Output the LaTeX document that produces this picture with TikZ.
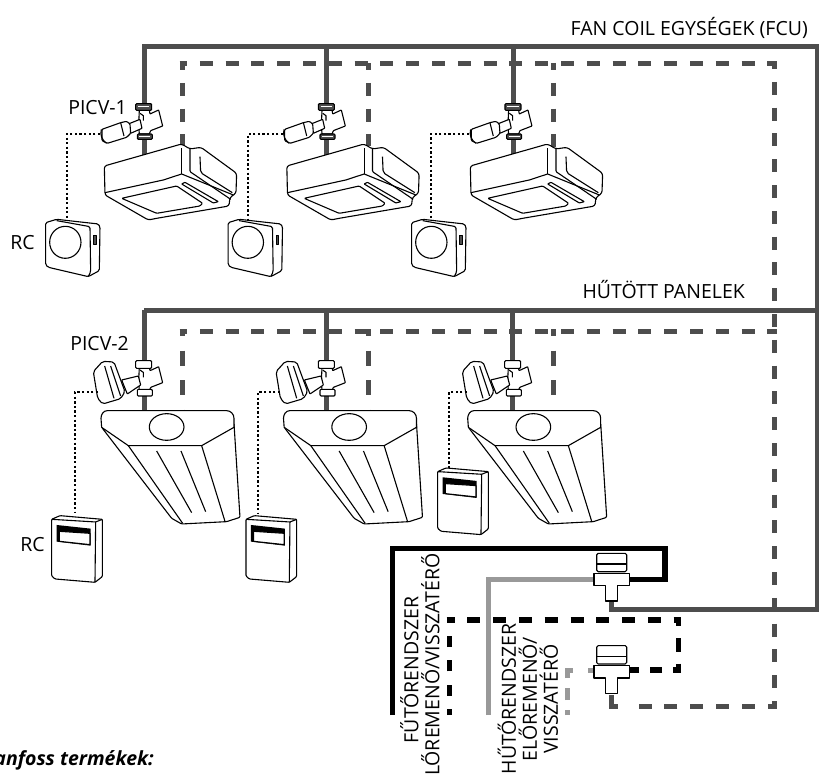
\documentclass[tikz,border=0pt]{standalone}
\usepackage{fontspec}
\setmainfont{Open Sans}
\definecolor{pipedark}{HTML}{4D4D4D}
\definecolor{pipelight}{HTML}{999999}
\tikzset{
	pipe/.style={line width=5pt, line cap=butt, line join=miter},
	pipedash/.style={pipe, dash pattern=on 13pt off 12.8pt},
	wirelink/.style={line width=2pt, dash pattern=on 2.3pt off 2.3pt},
	unit/.style={draw=black, fill=white, line width=1.1pt, line join=round},
	unitline/.style={draw=black, line width=1.1pt, line join=round},
	label/.style={font=\fontsize{19.5}{21}\selectfont, inner sep=0pt},
	pics/fancoil/.style={code={
		\begin{scope}[x=0.3333pt, y=-0.3333pt]
			\draw[unit, rounded corners=2.5pt] (313,498) -- (545,432) -- (570,447) -- (603,442) -- (710,520) -- (708,580) -- (690,592) -- (687,618) -- (470,655) -- (445,660) -- (315,585) -- cycle;
			\draw[unitline] (315,578) -- (490,540) -- (545,522) -- (700,585);
			\draw[unitline] (545,445) -- (545,522);
			\draw[unitline, rounded corners=1pt] (570,447) -- (570,515) -- (692,598);
			\draw[unitline, rounded corners=2pt] (600,470) -- (602,518) -- (697,578);
			\draw[unitline, rounded corners=1pt] (365,595) -- (530,558) -- (608,610) -- (600,618) -- (470,640) -- cycle;
			\draw[unitline, rounded corners=0.5pt] (545,552) -- (555,547) -- (655,605) -- (640,609) -- cycle;
		\end{scope}
	}},
	pics/roundrc/.style={code={
		\begin{scope}[x=0.3333pt, y=-0.3333pt]
			\draw[unit, rounded corners=1.5pt] (137,668) -- (170,658) -- (295,672) -- (300,680) -- (298,812) -- (265,830) -- (145,802) -- (137,795) -- cycle;
			\draw[unitline, rounded corners=1.5pt] (170,662) -- (270,680) -- (272,815) -- (265,830);
			\draw[unitline] (196,727) ellipse[x radius=47, y radius=48];
			\draw[unitline, fill=pipedark] (281,707) rectangle (289,733);
		\end{scope}
	}},
	pics/panelunit/.style={code={
		\begin{scope}[x=0.3333pt, y=-0.3333pt]
			\draw[unit, rounded corners=1pt] (305,412) -- (515,685) -- (545,702) -- (680,695) -- (720,682) -- (702,400) -- cycle;
			\draw[unit] (305,412) -- (303,385) to[out=90, in=180] (322,362) -- (680,362) to[out=0, in=90] (702,385) -- (702,412) -- (605,467) -- (385,467) -- cycle;
			\draw[unitline] (500,411) ellipse[x radius=52, y radius=40];
			\draw[unitline] (385,467) -- (548,700);
			\draw[unitline] (605,467) -- (675,694);
			\draw[unitline] (470,483) -- (575,668);
			\draw[unitline] (543,483) -- (617,665);
		\end{scope}
	}},
	pics/boxrc/.style={code={
		\begin{scope}[x=0.3333pt, y=-0.3333pt]
			\draw[unit, rounded corners=1pt] (155,688) -- (180,677) -- (307,688) -- (307,860) -- (285,877) -- (165,867) -- (155,858) -- cycle;
			\draw[unitline] (155,688) -- (287,696) -- (285,877);
			\draw[unitline] (287,696) -- (307,688);
			\fill[black] (170,705) -- (272,716) -- (272,767) -- (170,755) -- cycle;
			\draw[unit] (178,724) -- (270,730) -- (270,764) -- (178,754) -- cycle;
		\end{scope}
	}},
	pics/valvebody/.style={code={
		\begin{scope}[x=0.3333pt, y=-0.3333pt]
			\draw[unit, rounded corners=0.5pt] (418,330) -- (448,330) -- (450,342) -- (476,330) -- (488,378) -- (452,392) -- (448,402) -- (418,402) -- (416,375) -- cycle;
			\draw[unitline] (420,340) -- (430,347) -- (430,362);
		\end{scope}
	}},
	pics/cylvalve/.style={code={
		\pic {valvebody};
		\begin{scope}[x=0.3333pt, y=-0.3333pt]
			\draw[unit, rounded corners=0.5pt] (385,372) -- (420,358) -- (426,385) -- (392,400) -- cycle;
			\draw[unit, rounded corners=1pt] (306,388) -- (362,368) -- (380,364) -- (390,372) -- (392,400) -- (380,412) -- (322,430) -- (306,422) -- cycle;
			\draw[unitline] (304,388) to[bend right=35] (320,430);
			\draw[unitline] (362,368) -- (372,408);
			\draw[unit, fill=pipedark, rounded corners=1pt] (407,311) rectangle (455,331);
			\draw[unit, fill=pipedark, rounded corners=1pt] (412,402) rectangle (457,418);
			\draw[white, line width=0.9pt] (414,320) -- (448,320) (418,408) -- (451,408);
		\end{scope}
	}},
	pics/boxvalve/.style={code={
		\pic at (0,-33.3) {valvebody};
		\begin{scope}[x=0.3333pt, y=-0.3333pt]
			\draw[unit, rounded corners=0.5pt] (365,270) -- (415,258) -- (422,285) -- (382,312) -- cycle;
			\draw[unit, rounded corners=2pt] (280,245) -- (308,214) -- (342,216) -- (375,305) -- (362,326) -- (308,342) -- (293,325) -- cycle;
			\draw[unitline] (314,228) -- (342,325);
			\draw[unitline] (332,228) -- (362,318);
			\draw[unit, rounded corners=1pt] (407,212) rectangle (455,235);
			\draw[unit, rounded corners=1pt] (412,298) rectangle (457,318);
		\end{scope}
	}},
	pics/zonevalve/.style={code={
		\draw[unit, rounded corners=1.5pt] (596.7,553.3) -- (626.7,553.3) -- (626.7,571.7) -- (596.7,571.7) -- cycle;
		\draw[unitline] (596.7,564) -- (626.7,564);
		\draw[unit] (594,573.3) -- (629.3,573.3) -- (629.3,585.7) -- (617.7,585.7) -- (617.7,601) -- (605.7,601) -- (605.7,585.7) -- (594,585.7) -- cycle;
	}},
}
\begin{document}
\begin{tikzpicture}[x=1pt, y=-1pt]
	\useasboundingbox (0,0) rectangle (819,776);
	\coordinate (mainNW) at (144,47);
	\coordinate (mainNE) at (817,47);
	\coordinate (mainSE) at (817,609);
	\coordinate (zoneA) at (611.7,601);
	\coordinate (zoneAb) at (611.7,609);
	\coordinate (rowtwoW) at (144,310);
	\coordinate (rowtwoE) at (817,310);
	\draw[pipedark, pipe] (zoneA) -- (zoneAb) -- (mainSE) -- (mainNE) -- (mainNW) -- (144,155);
	\draw[pipedark, pipe] (rowtwoW) -- (rowtwoE);
	\foreach \x/\y in {326.7/155, 513/155} {
		\draw[pipedark, pipe] (\x,47) -- (\x,\y);
	}
	\foreach \x in {144, 326.7, 512.7} {
		\draw[pipedark, pipe] (\x,310) -- (\x,412);
	}
	\coordinate (retA) at (179.5,63.3);
	\coordinate (retB) at (776.5,63.3);
	\coordinate (retC) at (179.5,331.3);
	\coordinate (retD) at (776.5,331.3);
	\coordinate (retE) at (774,706);
	\draw[pipedark, pipedash, dash phase=5.5pt] (retA) -- (retB);
	\draw[pipedark, pipedash, dash phase=5.5pt] (retC) -- (retD);
	\draw[pipedark, pipedash, dash phase=7pt] (774,63) -- (retE);
	\draw[pipedark, pipedash, dash phase=4pt] (776.5,706) -- (631,706);
	\draw[pipedark, pipe] (611.7,695) -- (611.7,706) -- (618,706);
	\foreach \x/\y in {182/146, 368/146, 553.7/148} {
		\draw[pipedark, pipedash, dash phase=6pt] (\x,63) -- (\x,\y);
	}
	\foreach \x/\y in {182/412, 368/412, 553.7/396} {
		\draw[pipedark, pipedash, dash pattern=on 15pt off 14.5pt, dash phase=8pt] (\x,329) -- (\x,\y);
	}
	\foreach \x/\name in {0/a, 182.5/b, 366/c} {
		\pic (fan\name) at (\x,0) {fancoil};
		\pic (round\name) at (\x,0) {roundrc};
	}
	\foreach \x/\name in {0/a, 182.7/b, 369.3/c} {
		\pic (cyl\name) at (\x,0) {cylvalve};
	}
	\foreach \x/\name in {0/a, 182.5/b, 366.7/c} {
		\pic (panel\name) at (\x,290) {panelunit};
	}
	\foreach \x/\name in {0/a, 182.7/b, 369/c} {
		\pic (box\name) at (\x,290) {boxvalve};
	}
	\pic (boxrca) at (0,290) {boxrc};
	\pic (boxrcb) at (194.3,290) {boxrc};
	\pic (boxrcc) at (386,242.3) {boxrc};
	\foreach \xa/\xb/\ya/\yb in {100/66.7/134/219, 283/248/134/219, 469/431/134/218, 98/75/392/513, 280/258/392/514, 467/449/392/468} {
		\draw[wirelink] (\xa,\ya) -- (\xb,\ya) -- (\xb,\yb);
	}
	\draw[black, pipe, line width=5.5pt] (392.3,715) -- (392.3,548.3) -- (665,548.3) -- (665,579.3) -- (629,579.3);
	\draw[pipelight, pipe] (488.3,715) -- (488.3,579.3) -- (594,579.3);
	\draw[black, pipe, line width=5.5pt, dash pattern=on 11pt off 13.3pt, dash phase=5pt] (449.3,715) -- (449.3,622);
	\draw[black, pipedash, line width=5.5pt, dash phase=5pt] (446.5,620) -- (681,620);
	\draw[black, pipe, line width=5.5pt, dash pattern=on 13.5pt off 12pt, dash phase=5pt] (678.3,617.5) -- (678.3,673);
	\draw[black, pipe, line width=5.5pt, dash pattern=on 12pt off 11pt, dash phase=4pt] (681,670) -- (630,670);
	\draw[pipelight, pipe, dash pattern=on 12pt off 10pt, dash phase=7pt] (567.7,715) -- (567.7,668);
	\draw[pipelight, pipe] (565,670) -- (573,670) (588,670) -- (594,670);
	\pic (zonea) at (0,0) {zonevalve};
	\pic (zoneb) at (0,92.3) {zonevalve};
	\node[label, anchor=east] (fcutext) at (808,28) {FAN COIL EGYSÉGEK (FCU)};
	\node[label, anchor=east] (paneltext) at (745,290) {HŰTÖTT PANELEK};
	\node[label, anchor=east] (picvone) at (127,108) {PICV-1};
	\node[label, anchor=east] (picvtwo) at (129,344) {PICV-2};
	\node[label, anchor=east] (rcone) at (35,243) {RC};
	\node[label, anchor=east] (rctwo) at (45,545) {RC};
	\node[label, rotate=90, align=center] (heattext) at (420,670) {FŰTŐRENDSZER\\ELŐREMENŐ/VISSZATÉRŐ};
	\node[label, rotate=90, align=center] (cooltext) at (528,699) {HŰTŐRENDSZER\\ELŐREMENŐ/\\VISSZATÉRŐ};
	\node[label, anchor=east, font=\fontsize{19.5}{21}\selectfont\bfseries\itshape] (danfosstext) at (154,760) {Danfoss termékek:};
\end{tikzpicture}
\end{document}
